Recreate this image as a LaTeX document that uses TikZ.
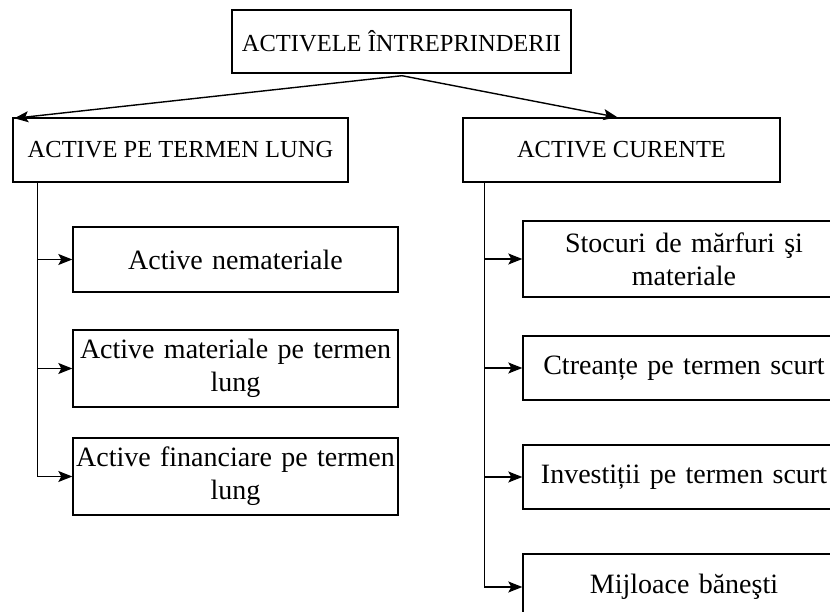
\documentclass[tikz,border=0pt]{standalone}
\usepackage{fontspec}
\setmainfont{Liberation Serif}
\usetikzlibrary{arrows.meta,calc}
\tikzset{
  box/.style={draw, line width=1.4pt, inner sep=0pt, align=center, anchor=center},
  head/.style={box, font=\fontsize{24.5}{29}\selectfont},
  kid/.style={box, font=\fontsize{28}{33}\selectfont},
  arr/.style={line width=1.4pt, -{Stealth[length=14pt,width=11pt,inset=3pt]}},
  con/.style={line width=1.4pt}
}
\begin{document}
\begin{tikzpicture}[x=1pt,y=-1pt]
\useasboundingbox (0,0) rectangle (830,612);
\clip (0,0) rectangle (830,612);
\node[head, minimum width=339pt, minimum height=63pt] (top) at (401.5,41.5) {ACTIVELE ÎNTREPRINDERII};
\node[head, minimum width=335pt, minimum height=64pt] (lt) at (180.5,150) {ACTIVE PE TERMEN LUNG};
\node[head, minimum width=317pt, minimum height=64pt] (rc) at (621.5,150) {ACTIVE CURENTE};
\node[kid, text width=325pt, minimum height=65pt] (l1) at (235.5,259.5) {Active nemateriale};
\node[kid, text width=325pt, minimum height=77pt] (l2) at (235.5,368.5) {Active materiale pe termen\\lung};
\node[kid, text width=325pt, minimum height=77pt] (l3) at (235.5,476.5) {Active financiare pe termen\\lung};
\node[kid, text width=322pt, minimum height=76pt] (r1) at (684,259) {Stocuri de mărfuri şi\\materiale};
\node[kid, text width=322pt, minimum height=64pt] (r2) at (684,368) {Ctreanțe pe termen scurt};
\node[kid, text width=322pt, minimum height=64pt] (r3) at (684,477) {Investiții pe termen scurt};
\node[kid, text width=322pt, minimum height=66pt] (r4) at (684,587) {Mijloace băneşti};
\coordinate (tsplit) at ($(top.south)+(0.5,2)$);
\draw[arr] (tsplit) -- ($(lt.north west)+(2,1)$);
\draw[arr] (tsplit) -- ($(rc.north)+(-4,0)$);
\coordinate (lbus) at ($(lt.south west)+(25,0)$);
\coordinate (rbus) at ($(rc.south west)+(22,0)$);
\draw[con] (lbus) -- (lbus |- l3.west);
\draw[arr] (lbus |- l1.west) -- (l1.west);
\draw[arr] (lbus |- l2.west) -- (l2.west);
\draw[arr] (lbus |- l3.west) -- (l3.west);
\draw[con] (rbus) -- (rbus |- r4.west);
\draw[arr] (rbus |- r1.west) -- (r1.west);
\draw[arr] (rbus |- r2.west) -- (r2.west);
\draw[arr] (rbus |- r3.west) -- (r3.west);
\draw[arr] (rbus |- r4.west) -- (r4.west);
\end{tikzpicture}
\end{document}
